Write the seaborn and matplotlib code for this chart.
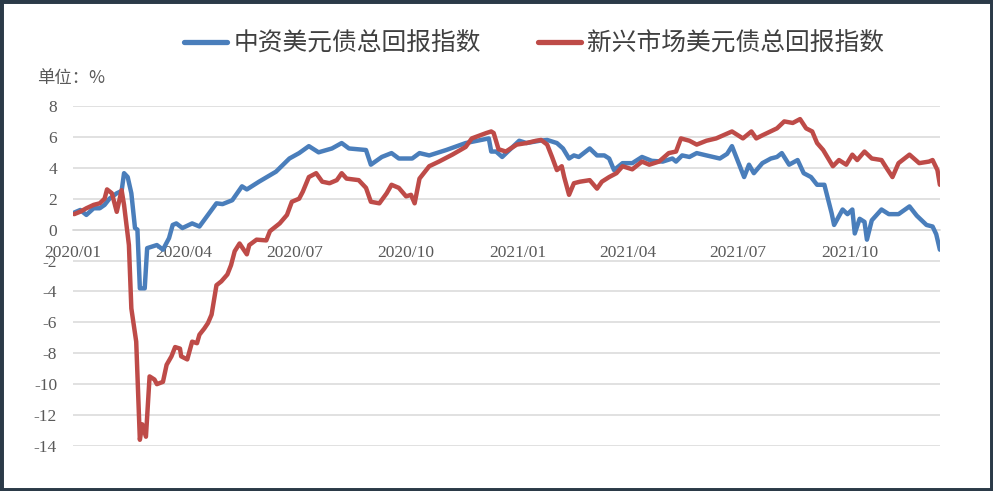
import pandas as pd
import matplotlib
matplotlib.use("Agg")
import matplotlib.pyplot as plt
from matplotlib.patches import Rectangle
import seaborn as sns

# 中资美元债总回报指数
blue_dates = ['2020-01-02', '2020-01-07', '2020-01-12', '2020-01-18', '2020-01-23', '2020-01-27',
              '2020-01-31', '2020-02-06', '2020-02-10', '2020-02-12',
              '2020-02-15', '2020-02-18', '2020-02-21', '2020-02-23', '2020-02-25', '2020-02-29',
              '2020-03-02', '2020-03-10', '2020-03-15', '2020-03-20', '2020-03-23', '2020-03-26',
              '2020-03-31', '2020-04-08', '2020-04-14', '2020-04-21', '2020-04-28', '2020-05-03',
              '2020-05-11', '2020-05-19', '2020-05-23', '2020-06-02', '2020-06-16', '2020-06-27',
              '2020-07-05', '2020-07-13', '2020-07-21', '2020-08-01', '2020-08-09', '2020-08-15',
              '2020-08-29', '2020-09-02', '2020-09-11', '2020-09-19', '2020-09-25', '2020-10-06',
              '2020-10-12', '2020-10-20', '2020-11-03', '2020-11-19', '2020-12-08', '2020-12-10',
              '2020-12-14', '2020-12-19', '2020-12-25', '2021-01-02', '2021-01-08', '2021-01-19',
              '2021-01-25', '2021-02-02', '2021-02-07', '2021-02-12', '2021-02-16', '2021-02-20',
              '2021-03-01', '2021-03-07', '2021-03-13', '2021-03-17', '2021-03-21', '2021-03-28',
              '2021-04-05', '2021-04-13', '2021-04-21', '2021-04-30', '2021-05-08', '2021-05-11',
              '2021-05-16', '2021-05-22', '2021-05-28', '2021-06-05', '2021-06-16', '2021-06-22',
              '2021-06-26', '2021-06-30', '2021-07-06', '2021-07-10', '2021-07-14', '2021-07-21',
              '2021-07-28', '2021-08-02', '2021-08-06', '2021-08-12', '2021-08-19', '2021-08-24',
              '2021-08-30', '2021-09-04', '2021-09-10', '2021-09-16', '2021-09-18', '2021-09-25',
              '2021-09-29', '2021-10-03', '2021-10-05', '2021-10-09', '2021-10-13', '2021-10-15',
              '2021-10-19', '2021-10-27', '2021-11-02', '2021-11-10', '2021-11-19', '2021-11-25',
              '2021-12-03', '2021-12-08', '2021-12-11', '2021-12-14']
blue_vals = [1.1, 1.27, 0.95, 1.38, 1.38, 1.6,
             2.0, 2.35, 2.5, 3.65,
             3.4, 2.35, 0.1, 0.0, -3.8, -3.8,
             -1.2, -1.0, -1.3, -0.55, 0.3, 0.4,
             0.1, 0.4, 0.2, 0.95, 1.7, 1.65,
             1.9, 2.8, 2.6, 3.1, 3.75, 4.6,
             4.95, 5.4, 5.0, 5.25, 5.6, 5.25,
             5.15, 4.2, 4.7, 4.95, 4.6, 4.6,
             4.95, 4.8, 5.15, 5.6, 5.9, 5.05,
             5.05, 4.7, 5.15, 5.75, 5.6, 5.75,
             5.8, 5.6, 5.25, 4.6, 4.8, 4.7,
             5.25, 4.8, 4.8, 4.6, 3.85, 4.3,
             4.3, 4.7, 4.45, 4.4, 4.6, 4.4,
             4.8, 4.7, 4.95, 4.8, 4.6, 4.9,
             5.4, 4.6, 3.4, 4.2, 3.65, 4.3,
             4.6, 4.7, 4.95, 4.2, 4.5, 3.65,
             3.4, 2.9, 2.9, 1.05, 0.3, 1.3,
             1.0, 1.3, -0.25, 0.7, 0.5, -0.65,
             0.6, 1.3, 1.0, 1.0, 1.5, 0.9,
             0.3, 0.2, -0.3, -1.3]

# 新兴市场美元债总回报指数
red_dates = ['2020-01-02', '2020-01-07', '2020-01-12', '2020-01-18', '2020-01-23', '2020-01-27',
             '2020-01-29', '2020-02-02', '2020-02-06', '2020-02-10',
             '2020-02-12', '2020-02-16', '2020-02-18', '2020-02-22', '2020-02-25', '2020-02-27',
             '2020-03-01', '2020-03-04', '2020-03-08', '2020-03-10', '2020-03-15', '2020-03-18',
             '2020-03-22', '2020-03-25', '2020-03-29', '2020-03-30', '2020-04-04', '2020-04-08',
             '2020-04-12', '2020-04-14', '2020-04-18', '2020-04-21', '2020-04-24', '2020-04-28',
             '2020-05-02', '2020-05-07', '2020-05-10', '2020-05-13', '2020-05-17', '2020-05-23',
             '2020-05-25', '2020-05-31', '2020-06-08', '2020-06-11', '2020-06-19', '2020-06-25',
             '2020-06-29', '2020-07-05', '2020-07-08', '2020-07-13', '2020-07-19', '2020-07-24',
             '2020-07-30', '2020-08-05', '2020-08-09', '2020-08-13', '2020-08-23', '2020-08-29',
             '2020-09-02', '2020-09-09', '2020-09-15', '2020-09-19', '2020-09-25', '2020-10-01',
             '2020-10-05', '2020-10-08', '2020-10-12', '2020-10-20', '2020-10-28', '2020-11-08',
             '2020-11-19', '2020-11-24', '2020-12-06', '2020-12-10', '2020-12-12', '2020-12-16',
             '2020-12-22', '2020-12-31', '2021-01-08', '2021-01-16', '2021-01-20', '2021-01-25',
             '2021-01-29', '2021-02-02', '2021-02-06', '2021-02-08', '2021-02-12', '2021-02-16',
             '2021-02-21', '2021-03-01', '2021-03-07', '2021-03-11', '2021-03-17', '2021-03-23',
             '2021-03-28', '2021-04-05', '2021-04-13', '2021-04-19', '2021-04-27', '2021-05-05',
             '2021-05-11', '2021-05-15', '2021-05-22', '2021-05-28', '2021-06-05', '2021-06-13',
             '2021-06-26', '2021-07-05', '2021-07-12', '2021-07-16', '2021-07-21', '2021-08-02',
             '2021-08-08', '2021-08-15', '2021-08-21', '2021-08-26', '2021-08-31', '2021-09-04',
             '2021-09-09', '2021-09-14', '2021-09-17', '2021-09-22', '2021-09-28', '2021-10-03',
             '2021-10-07', '2021-10-13', '2021-10-19', '2021-10-27', '2021-10-31', '2021-11-05',
             '2021-11-10', '2021-11-19', '2021-11-27', '2021-12-05', '2021-12-08', '2021-12-12',
             '2021-12-14']
red_vals = [1.0, 1.16, 1.38, 1.6, 1.7, 2.0,
            2.6, 2.35, 1.15, 2.55,
            1.6, -1.0, -5.1, -7.25, -13.6, -12.6,
            -13.4, -9.5, -9.7, -10.0, -9.85, -8.75,
            -8.2, -7.6, -7.7, -8.2, -8.4, -7.25,
            -7.35, -6.8, -6.4, -6.05, -5.5, -3.6,
            -3.35, -2.9, -2.3, -1.4, -0.9, -1.6,
            -1.0, -0.65, -0.7, -0.1, 0.4, 0.95,
            1.8, 2.0, 2.45, 3.4, 3.65, 3.1,
            3.0, 3.2, 3.65, 3.3, 3.2, 2.7,
            1.8, 1.7, 2.35, 2.9, 2.7, 2.15,
            2.25, 1.7, 3.3, 4.1, 4.4, 4.85,
            5.35, 5.9, 6.25, 6.35, 6.25, 5.2,
            5.05, 5.5, 5.6, 5.75, 5.8, 5.5,
            4.7, 3.85, 4.1, 3.4, 2.25, 3.0,
            3.1, 3.2, 2.65, 3.1, 3.4, 3.65,
            4.1, 3.9, 4.4, 4.2, 4.4, 4.95,
            5.05, 5.9, 5.75, 5.5, 5.75, 5.9,
            6.35, 5.9, 6.35, 5.9, 6.1, 6.55,
            7.0, 6.9, 7.15, 6.55, 6.35, 5.6,
            5.15, 4.5, 4.1, 4.5, 4.2, 4.85,
            4.5, 5.05, 4.6, 4.5, 4.0, 3.4,
            4.3, 4.85, 4.3, 4.4, 4.5, 3.85,
            2.9]

series_names = ['中资美元债总回报指数', '新兴市场美元债总回报指数']
colors = ['#4a7ebb', '#be4b48']
x_ticks = ['2020-01-01', '2020-04-01', '2020-07-01', '2020-10-01',
           '2021-01-01', '2021-04-01', '2021-07-01', '2021-10-01']
x_tick_labels = ['2020/01', '2020/04', '2020/07', '2020/10',
                 '2021/01', '2021/04', '2021/07', '2021/10']
y_ticks = [-14, -12, -10, -8, -6, -4, -2, 0, 2, 4, 6, 8]

df = pd.concat([
    pd.DataFrame({'date': pd.to_datetime(blue_dates), 'value': blue_vals, 'series': series_names[0]}),
    pd.DataFrame({'date': pd.to_datetime(red_dates), 'value': red_vals, 'series': series_names[1]}),
])

sns.set_style("white")
plt.rcParams['font.family'] = ['Liberation Serif', 'Noto Sans CJK SC']
plt.rcParams['axes.unicode_minus'] = False

fig = plt.figure(figsize=(9.93, 4.91), dpi=100)
ax = fig.add_axes([0.0735, 0.0917, 0.873, 0.6925])

sns.lineplot(data=df, x='date', y='value', hue='series', palette=colors,
             hue_order=series_names, linewidth=3.2, ax=ax, legend=False)

ax.set_xlim(pd.Timestamp('2020-01-01'), pd.Timestamp('2021-12-14'))
ax.set_ylim(-14, 8)
ax.set_yticks(y_ticks)
ax.set_yticklabels([str(v) for v in y_ticks])
ax.set_xticks(pd.to_datetime(x_ticks))
ax.set_xticklabels(x_tick_labels)
ax.grid(axis='y', color='#d9d9d9', linewidth=1.1)
ax.set_axisbelow(True)
ax.set_xlabel('')
ax.set_ylabel('')
for side in ['top', 'right', 'left']:
    ax.spines[side].set_visible(False)
# Excel-style category axis crossing at zero
ax.spines['bottom'].set_position(('data', 0))
ax.spines['bottom'].set_color('#d9d9d9')
ax.spines['bottom'].set_linewidth(1.1)
ax.spines['bottom'].set_zorder(0)
ax.tick_params(axis='x', length=0, pad=11, labelsize=12.5, labelcolor='#595959')
ax.tick_params(axis='y', length=0, pad=11.5, labelsize=12.5, labelcolor='#595959')

handles = [plt.Line2D([], [], color=c, linewidth=3.8) for c in colors]
fig.legend(handles, series_names, loc='center', bbox_to_anchor=(0.538, 0.912), ncol=2,
           frameon=False, handlelength=1.75, handletextpad=0.25, columnspacing=2.3,
           prop={'family': ['Noto Sans CJK SC'], 'size': 17.8}, labelcolor='#404040')

fig.text(0.037, 0.842, '单位：%', family=['Noto Sans CJK SC', 'DejaVu Sans'],
         fontsize=12.5, color='#595959', va='center', ha='left')

fig.patches.append(Rectangle((0, 0), 1, 1, transform=fig.transFigure, fill=False,
                             edgecolor='#2b3a48', linewidth=5, zorder=10))

fig.savefig('out.png', dpi=100)
